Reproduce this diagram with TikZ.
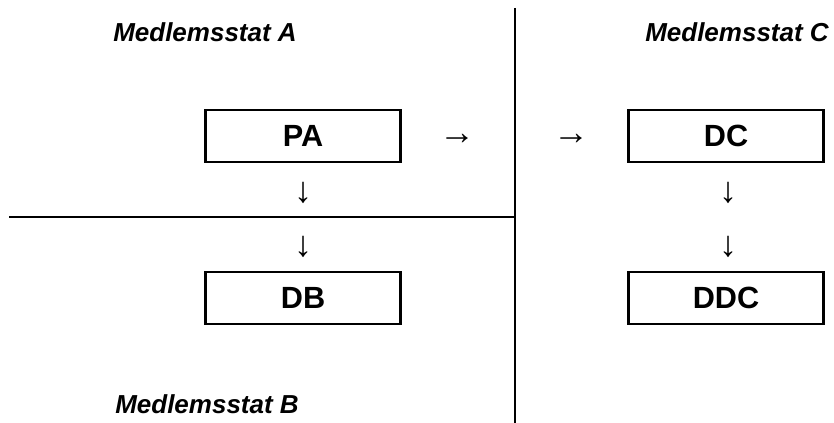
\documentclass[tikz,border=0pt]{standalone}
\usepackage{fontspec}
\setmainfont{Liberation Sans}
\usepackage{tikz}
\usetikzlibrary{positioning}

\begin{document}
\begin{tikzpicture}[x=0.75pt, y=-0.75pt,
        every node/.style={font=\fontsize{19.5}{23}\selectfont},
        box/.style={draw, line width=2pt, minimum width=146pt, minimum height=39pt, inner sep=0pt, font=\fontsize{23}{27}\selectfont\bfseries},
        lbl/.style={anchor=base, font=\fontsize{19.5}{23}\selectfont\bfseries\itshape},
        arr/.style={inner sep=0pt, font=\fontsize{27}{30}\selectfont},
        divider/.style={line width=1.6pt}]
        \useasboundingbox (0,0) rectangle (834,423);

        % Country labels
        \node[lbl] (labelA) at (205,42) {Medlemsstat A};
        \node[lbl] (labelC) at (737,42) {Medlemsstat C};
        \node[lbl] (labelB) at (207,413) {Medlemsstat B};

        % Borders between the states
        \coordinate (vtop) at (515,8);
        \coordinate (vbot) at (515,423);
        \coordinate (hleft) at (9,217);
        \coordinate (hright) at (515,217);
        \draw[divider] (vtop) -- (vbot);
        \draw[divider] (hleft) -- (hright);

        % Authorities
        \node[box] (pa) at (303,136) {PA};
        \node[box] (db) at (303,298) {DB};
        \node[box] (dc) at (726,136) {DC};
        \node[box] (ddc) at (726,298) {DDC};

        % Arrows
        \node[arr] (paright) at (457,139) {→};
        \node[arr] (dcleft) at (571,139) {→};
        \node[arr] (padown) at (303,193) {↓};
        \node[arr] (dbup) at (303,247) {↓};
        \node[arr] (dcdown) at (728,193) {↓};
        \node[arr] (ddcup) at (728,247) {↓};
    \end{tikzpicture}
\end{document}
